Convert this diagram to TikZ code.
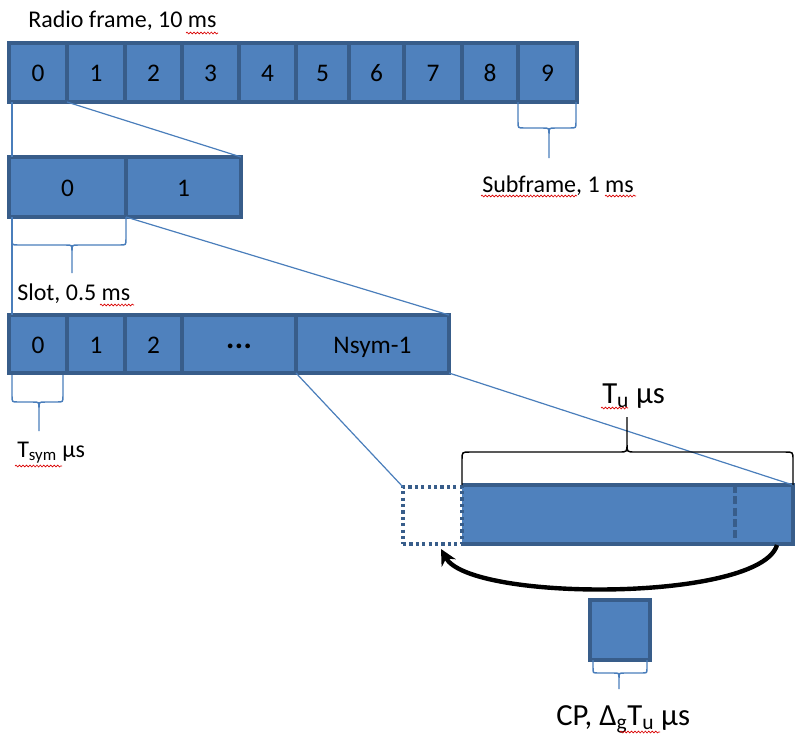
\documentclass[tikz,border=0pt]{standalone}
\usepackage{fontspec}
\setmainfont{Carlito}
\usetikzlibrary{arrows.meta,decorations.pathmorphing}
\definecolor{fillblue}{HTML}{4F81BD}
\definecolor{edgeblue}{HTML}{385D8A}
\definecolor{thinblue}{HTML}{4A7EBB}
% cell: name, x1, x2, y1, y2, text
\newcommand\cellat[6]{\node[cell, minimum width={(#3-#2)*0.75pt}, minimum height={(#5-#4)*0.75pt}] (#1) at ({(#2+#3)/2},{(#4+#5)/2}) {#6};}
% brace opening upward, tip downward: style, x1, x2, ytop, ymid, ytip, xtip, r
\newcommand\bracedown[8]{\draw[#1] (#2,#4) -- (#2,{#5-#8}) .. controls (#2,#5) .. ({#2+#8},#5) -- ({#7-#8},#5) .. controls (#7,#5) .. (#7,{#5+#8}) -- (#7,#6)
  (#7,{#5+#8}) .. controls (#7,#5) .. ({#7+#8},#5) -- ({#3-#8},#5) .. controls (#3,#5) .. (#3,{#5-#8}) -- (#3,#4);}
% brace with tip upward: style, x1, x2, ybottom, ymid, ytip, xtip, r
\newcommand\braceup[8]{\draw[#1] (#2,#4) -- (#2,{#5+#8}) .. controls (#2,#5) .. ({#2+#8},#5) -- ({#7-#8},#5) .. controls (#7,#5) .. (#7,{#5-#8}) -- (#7,#6)
  (#7,{#5-#8}) .. controls (#7,#5) .. ({#7+#8},#5) -- ({#3-#8},#5) .. controls (#3,#5) .. (#3,{#5+#8}) -- (#3,#4);}
\newcommand\squig[3]{\draw[squiggle] (#1,#3) -- (#2,#3);}
\begin{document}
\begin{tikzpicture}[x=0.75pt,y=-0.75pt,
  cell/.style={draw=edgeblue, fill=fillblue, line width=2.4pt, outer sep=0pt, inner sep=0pt,
    text height=13.5pt, text depth=0pt, font=\fontsize{19}{22}\selectfont},
  lbl/.style={anchor=base west, inner sep=0pt, font=\fontsize{18}{21}\selectfont},
  biglbl/.style={anchor=base west, inner sep=0pt, font=\fontsize{23}{27}\selectfont},
  link/.style={draw=thinblue, line width=0.9pt},
  bbrace/.style={draw=thinblue, line width=1.1pt},
  kbrace/.style={draw=black, line width=1.1pt},
  squiggle/.style={draw=red!85!black, line width=0.5pt, decorate,
    decoration={snake, amplitude=0.7pt, segment length=2.6pt}}]
\useasboundingbox (0,0) rectangle (795,740);

% radio frame
\cellat{f0}{9}{67}{43}{102}{0}
\cellat{f1}{67}{125}{43}{102}{1}
\cellat{f2}{125}{182}{43}{102}{2}
\cellat{f3}{182}{239}{43}{102}{3}
\cellat{f4}{239}{296}{43}{102}{4}
\cellat{f5}{296}{349}{43}{102}{5}
\cellat{f6}{349}{404}{43}{102}{6}
\cellat{f7}{404}{462}{43}{102}{7}
\cellat{f8}{462}{518}{43}{102}{8}
\cellat{f9}{518}{577}{43}{102}{9}

% subframe
\cellat{s0}{9}{126}{157}{217}{0}
\cellat{s1}{126}{241}{157}{217}{1}

% slot
\cellat{o0}{9}{67}{315}{373}{0}
\cellat{o1}{67}{125}{315}{373}{1}
\cellat{o2}{125}{182}{315}{373}{2}
\cellat{o3}{182}{296}{315}{373}{\textbf{·\kern1.5pt·\kern1.5pt·}}
\cellat{o4}{296}{449}{315}{373}{Nsym-1}

% OFDM symbol
\node[fill=fillblue, outer sep=0pt, inner sep=0pt, minimum width={331*0.75pt}, minimum height={59*0.75pt}] (sym) at (627.5,514.5) {};
\draw[edgeblue, line width=2.4pt] (sym.north west) -- (sym.north east) -- (sym.south east) -- (sym.south west);
\draw[edgeblue, line width=2.4pt, dash pattern=on 6pt off 2.5pt] ([xshift=-43.5pt]sym.north east) -- ([xshift=-43.5pt]sym.south east);
\node[draw=edgeblue, line width=2.4pt, dash pattern=on 2.4pt off 2.4pt, outer sep=0pt, inner sep=0pt,
  minimum width={59*0.75pt}, minimum height={57*0.75pt}] (cpcopy) at (432.5,515.5) {};

% CP
\cellat{cp}{590}{650}{600}{660}{}

% zoom lines
\draw[link] ([xshift=2.2pt]f0.south west) -- ([xshift=2.2pt]s0.north west);
\draw[link] (f0.south east) -- (s1.north east);
\draw[link] ([xshift=2.2pt]s0.south west) -- ([xshift=2.2pt]o0.north west);
\draw[link] (s0.south east) -- (o4.north east);
\draw[link] (o4.south west) -- (cpcopy.north west);
\draw[link] (o4.south east) -- (sym.north east);

% braces
\bracedown{bbrace}{518}{576}{102}{128}{158}{549}{6}
\bracedown{bbrace}{12}{126}{217}{245}{273}{72}{6}
\bracedown{bbrace}{12}{63}{375}{402}{431}{39}{6}
\bracedown{bbrace}{593}{647}{660}{673}{689}{619}{5}
\braceup{kbrace}{462}{793}{485}{452}{417}{627}{8}

% cyclic copy arrow
\coordinate (arrstart) at (777,545);
\coordinate (arrend) at (441,549);
\draw[line width=3.3pt, -{Stealth[length=12pt, width=12pt]}] (arrstart) .. controls (760,602) and (470,602) .. (arrend);

% labels
\node[lbl] (rf) at (28,27) {Radio frame, 10 ms};
\node[lbl] (sf) at (482,192) {Subframe, 1 ms};
\node[lbl] (sl) at (17,300) {Slot, 0.5 ms};
\node[lbl] (ts) at (17,457) {T\textsubscript{sym} μs};
\node[biglbl] (tu) at (602,403) {T\textsubscript{u} μs};
\node[biglbl] (cpl) at (556,725) {CP, Δ\textsubscript{g}T\textsubscript{u} μs};

% spelling marks
\squig{186}{218}{33}
\squig{481}{577}{196}
\squig{605}{636}{196}
\squig{100}{134}{305}
\squig{15}{62}{466}
\squig{601}{628}{408}
\squig{620}{660}{732}
\end{tikzpicture}
\end{document}
